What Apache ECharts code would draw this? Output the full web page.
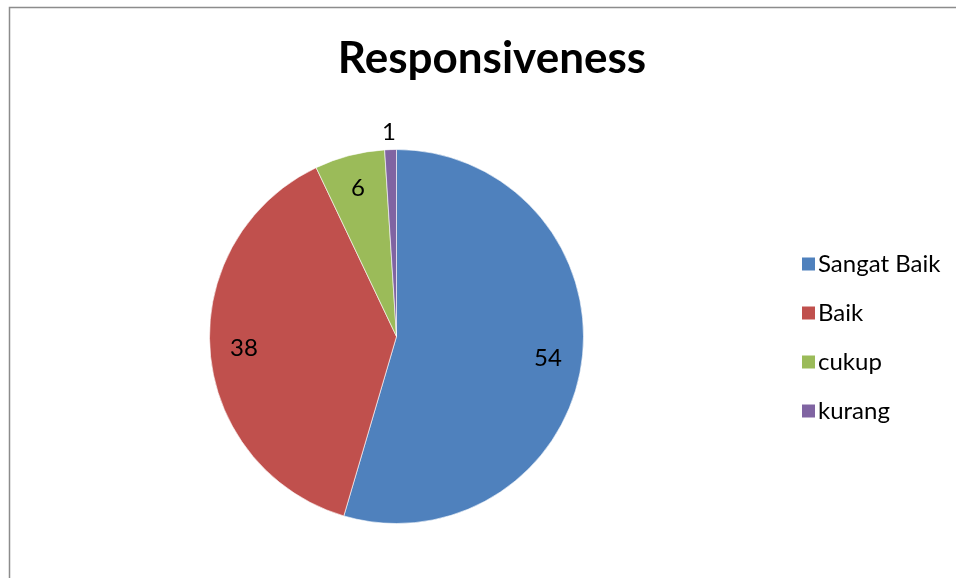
<!DOCTYPE html>
<html>
<head>
<meta charset="utf-8">
<script src="https://cdn.jsdelivr.net/npm/echarts@6/dist/echarts.min.js"></script>
<style>
html,body{margin:0;padding:0;background:#fff;}
#c{width:956px;height:578px;}
</style>
</head>
<body>
<div id="c"></div>
<script>
const titleText = 'Responsiveness';
const categories = ['Sangat Baik', 'Baik', 'cukup', 'kurang'];
const values = [54, 38, 6, 1];
const colors = ['#4F81BD', '#C0504D', '#9BBB59', '#8064A2'];
const insideLabelled = [true, true, true, false];

const FONT = 'Lato';
const chart = echarts.init(document.getElementById('c'), null, {renderer: 'canvas'});

const mainData = categories.map((name, i) => ({
  name, value: values[i],
  itemStyle: {color: colors[i]},
  label: {show: !insideLabelled[i]}
}));
const overlayData = categories.map((name, i) => ({
  name: name + ' ', value: values[i],
  label: {show: insideLabelled[i]}
}));

chart.setOption({
  animation: false,
  title: {
    text: titleText,
    left: 487, top: 32, textAlign: 'center',
    textStyle: {fontFamily: FONT, fontWeight: 'bold', fontSize: 44, color: '#000'}
  },
  legend: {
    orient: 'vertical',
    left: 795, top: 247,
    data: categories,
    icon: 'rect',
    itemWidth: 15, itemHeight: 15,
    itemGap: 25,
    selectedMode: false,
    textStyle: {fontFamily: FONT, fontSize: 24, color: '#000', padding: [0, 0, 0, -3]}
  },
  graphic: [{
    type: 'rect', silent: true,
    shape: {x: 9.5, y: 7.5, width: 1200, height: 1200},
    style: {fill: 'none', stroke: '#8c8c8c', lineWidth: 1.5}
  }],
  series: [{
    type: 'pie',
    center: [396.5, 336.5],
    radius: [0, 187],
    startAngle: 90,
    clockwise: true,
    avoidLabelOverlap: false,
    data: mainData,
    itemStyle: {borderColor: '#ffffff', borderWidth: 0.6},
    label: {
      position: 'outside', formatter: '{c}',
      fontFamily: FONT, fontSize: 24, color: '#000',
      distanceToLabelLine: -6
    },
    labelLine: {show: false, length: 17, length2: 0},
    emphasis: {disabled: true}
  }, {
    type: 'pie',
    center: [396.5, 336.5],
    radius: [0, 300],
    startAngle: 90,
    clockwise: true,
    avoidLabelOverlap: false,
    silent: true,
    data: overlayData,
    itemStyle: {color: 'rgba(0,0,0,0)', borderWidth: 0},
    label: {position: 'inside', formatter: '{c}', fontFamily: FONT, fontSize: 24, color: '#000'},
    labelLine: {show: false},
    emphasis: {disabled: true},
    tooltip: {show: false}
  }]
});
</script>
</body>
</html>
